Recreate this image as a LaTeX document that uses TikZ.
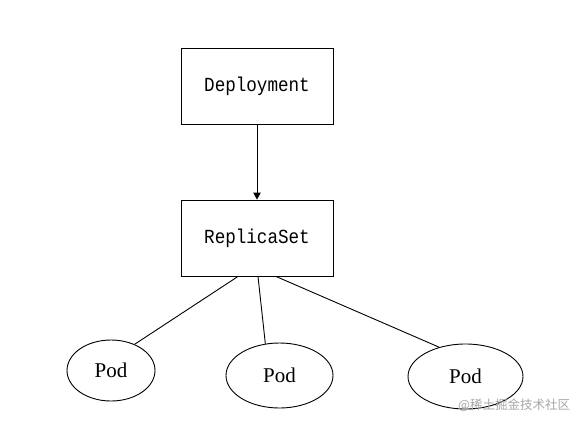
\documentclass[tikz,border=0pt]{standalone}
\usepackage{fontspec}
\usetikzlibrary{arrows.meta}
\newfontfamily\boxfont[FakeStretch=0.88]{Liberation Mono}
\newfontfamily\podfont{Liberation Serif}
\newfontfamily\cjkfont{Noto Sans CJK SC}
\tikzset{
  boxnode/.style={draw, line width=0.9pt, minimum width=152pt, minimum height=76pt, inner sep=0pt, font=\boxfont\fontsize{20}{22}\selectfont},
  podnode/.style={draw, ellipse, line width=0.9pt, inner sep=0pt, font=\podfont\fontsize{21}{22}\selectfont},
  link/.style={line width=0.9pt},
}
\usetikzlibrary{shapes.geometric}
\begin{document}
\begin{tikzpicture}[x=1pt,y=-1pt]
\useasboundingbox (0,0) rectangle (580,424);
\node[boxnode] (dep) at (257,86) {Deployment};
\node[boxnode] (rs) at (257,238) {ReplicaSet};
\node[podnode, minimum width=88pt, minimum height=61pt] (p1) at (111,370.5) {Pod};
\node[podnode, minimum width=107pt, minimum height=65pt] (p2) at (279.5,375.5) {Pod};
\node[podnode, minimum width=115pt, minimum height=65pt] (p3) at (465.5,376.5) {Pod};
\draw[link, -{Triangle[length=7pt,width=7.5pt]}] (dep.south) -- (rs.north);
\draw[link] ([xshift=-19pt]rs.south) -- (p1.48);
\draw[link] ([xshift=1pt]rs.south) -- (p2.114);
\draw[link] ([xshift=19pt]rs.south) -- (p3.132);
\node[anchor=west, inner sep=0pt, text=black!35, font=\cjkfont\fontsize{12.5}{14}\selectfont] (wm) at (458,405) {@稀土掘金技术社区};
\end{tikzpicture}
\end{document}
